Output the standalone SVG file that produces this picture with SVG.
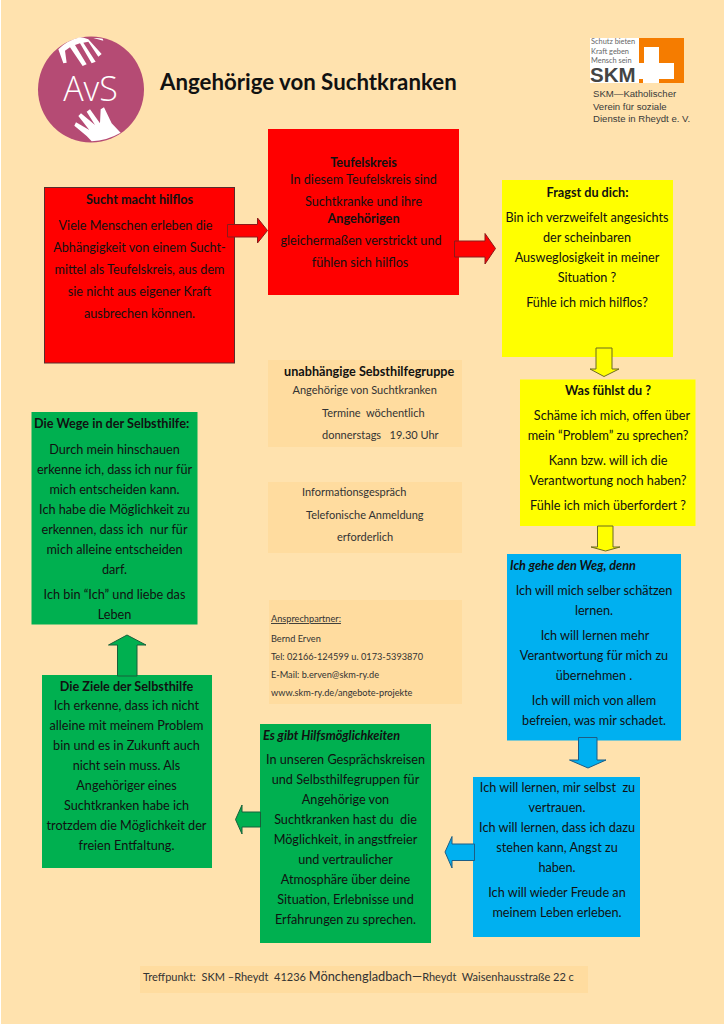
<svg xmlns="http://www.w3.org/2000/svg" width="724" height="1024" viewBox="0 0 724 1024">
<style>
text{font-family:"Lato","Liberation Sans",sans-serif;fill:#111;font-size:12.67px;white-space:pre}
g[id^=node] text{transform:translateY(1px)}
.b{font-weight:700}
.bi{font-weight:700;font-style:italic}
.m{text-anchor:middle}
.s{font-size:11px;fill:#333}
.c{font-size:9.2px;fill:#333}
.red{fill:#f00}.yel{fill:#ff0}.blu{fill:#00b0f0}.grn{fill:#00b050}.inf{fill:#ffdc9f}
.ared{fill:#f00;stroke:#8b1a1a;stroke-width:1}
.ayel{fill:#ff0;stroke:#6b6b20;stroke-width:1}
.ablu{fill:#00b0f0;stroke:#1d5d85;stroke-width:1}
.agrn{fill:#00b050;stroke:#17603a;stroke-width:1}
.sk{font-family:"Liberation Sans",sans-serif;font-size:9.6px;fill:#3a3a3a}
.sl{font-size:7.4px;fill:#666}
</style>
<rect width="724" height="1024" fill="#ffe2ae"/>
<rect width="1" height="1024" fill="#fff"/>
<g id="logo-avs">
<circle cx="91" cy="89.500" r="53" fill="#b54b74"/>
<g transform="translate(30 30) scale(.3333)" fill="#fff">
<path d="M85 58L100 100L110 98L105 62L120 52L158 108L170 103L135 45L150 40L185 100L197 95L160 38L175 35L205 80L215 72L175 28Q160 22 150 22Q110 32 85 58Z"/>
<path d="M190 24L220 32L218 26Q205 23 190 24Z"/>
<path d="M185 334L170 318L133 287L138 277L178 300L145 258L153 250L195 285L170 245L180 238L210 280L212 238L222 232L245 280L272 308Q230 332 185 334Z"/>
</g>
<text x="90.500" y="101" class="m" style="font-family:'Open Sans',sans-serif;font-weight:300;font-size:34px;fill:#fff">AvS</text>
</g>
<g id="title"><text x="160" y="90" class="b" style="font-size:22.250px">Angehörige von Suchtkranken</text></g>
<g id="logo-skm">
<rect x="590" y="38" width="94" height="45" fill="#fff"/>
<path d="M639 38H684V83H659V79H674V63H659V47H644V63H639Z" fill="#f57c00"/>
<rect x="639" y="79" width="4" height="4" fill="#f57c00"/>
<text x="591" y="44" class="sl">Schutz bieten</text><text x="591" y="53.500" class="sl">Kraft geben</text><text x="591" y="63" class="sl">Mensch sein</text>
<text x="590" y="82" style="font-family:'Liberation Sans',sans-serif;font-weight:700;font-size:20.500px;fill:#444">SKM</text>
<text x="593" y="97" class="sk">SKM—Katholischer</text><text x="593" y="109.500" class="sk">Verein für soziale</text><text x="593" y="122" class="sk">Dienste in Rheydt e. V.</text>
</g>
<g id="node-sucht">
<rect class="red" x="44.500" y="187.500" width="190" height="175.500" stroke="#5a2c2c"/>
<text x="139.500" y="203" class="m b">Sucht macht hilflos</text>
<text x="135.500" y="229" class="m">Viele Menschen erleben die</text><text x="139.500" y="251" class="m">Abhängigkeit von einem Sucht-</text><text x="139.500" y="273" class="m">mittel als Teufelskreis, aus dem</text><text x="139.500" y="295" class="m">sie nicht aus eigener Kraft</text><text x="139.500" y="317" class="m">ausbrechen können.</text>
</g>
<g id="node-teufelskreis">
<rect class="red" x="268" y="129" width="191" height="166"/>
<text x="363.500" y="166" class="m b">Teufelskreis</text>
<text x="363.500" y="183" class="m">In diesem Teufelskreis sind</text><text x="363.500" y="205" class="m">Suchtkranke und ihre</text><text x="363.500" y="222" class="m b">Angehörigen</text><text x="361" y="244" class="m">gleichermaßen verstrickt und</text><text x="360" y="266" class="m">fühlen sich hilflos</text>
</g>
<g id="node-fragst">
<rect class="yel" x="502" y="180" width="171" height="177"/>
<text x="587.500" y="196" class="m b">Fragst du dich:</text>
<text x="587" y="220.500" class="m">Bin ich verzweifelt angesichts</text><text x="587" y="240.500" class="m">der scheinbaren</text><text x="587" y="260.500" class="m">Ausweglosigkeit in meiner</text><text x="587" y="280.500" class="m">Situation ?</text><text x="587" y="305.500" class="m">Fühle ich mich hilflos?</text>
</g>
<g id="node-fuehlst">
<rect class="yel" x="520" y="379.500" width="175.500" height="146.500"/>
<text x="608" y="394" class="m b">Was fühlst du ?</text>
<text x="612" y="419" class="m">Schäme ich mich, offen über</text><text x="608" y="439" class="m">mein “Problem” zu sprechen?</text><text x="608" y="464" class="m">Kann bzw. will ich die</text><text x="608" y="484" class="m">Verantwortung noch haben?</text><text x="608" y="509" class="m">Fühle ich mich überfordert ?</text>
</g>
<g id="node-weg">
<rect class="blu" x="507" y="554" width="174" height="186.500"/>
<text x="510" y="569" class="bi">Ich gehe den Weg, denn</text>
<text x="594" y="594" class="m">Ich will mich selber schätzen</text><text x="594" y="614" class="m">lernen.</text><text x="595" y="639" class="m">Ich will lernen mehr</text><text x="594" y="659" class="m">Verantwortung für mich zu</text><text x="594" y="679" class="m">übernehmen .</text><text x="594" y="704" class="m">Ich will mich von allem</text><text x="594" y="724" class="m">befreien, was mir schadet.</text>
</g>
<g id="node-vertrauen">
<rect class="blu" x="473" y="777" width="167" height="160"/>
<text x="557.500" y="791" class="m">Ich will lernen, mir selbst  zu</text><text x="557" y="811" class="m">vertrauen.</text><text x="557" y="831" class="m">Ich will lernen, dass ich dazu</text><text x="557" y="851" class="m">stehen kann, Angst zu</text><text x="557" y="871" class="m">haben.</text><text x="557" y="896" class="m">Ich will wieder Freude an</text><text x="557" y="916" class="m">meinem Leben erleben.</text>
</g>
<g id="node-hilfe">
<rect class="grn" x="260" y="724" width="171" height="219"/>
<text x="263" y="738.500" class="bi">Es gibt Hilfsmöglichkeiten</text>
<text x="345.500" y="763" class="m">In unseren Gesprächskreisen</text><text x="345.500" y="783" class="m">und Selbsthilfegruppen für</text><text x="345.500" y="803" class="m">Angehörige von</text><text x="345.500" y="823" class="m">Suchtkranken hast du  die</text><text x="345.500" y="843" class="m">Möglichkeit, in angstfreier</text><text x="345.500" y="863" class="m">und vertraulicher</text><text x="345.500" y="883" class="m">Atmosphäre über deine</text><text x="345.500" y="903" class="m">Situation, Erlebnisse und</text><text x="345.500" y="923" class="m">Erfahrungen zu sprechen.</text>
</g>
<g id="node-ziele">
<rect class="grn" x="42" y="675" width="170" height="193"/>
<text x="126.500" y="689.500" class="m b">Die Ziele der Selbsthilfe</text>
<text x="126.500" y="709" class="m">Ich erkenne, dass ich nicht</text><text x="126.500" y="729" class="m">alleine mit meinem Problem</text><text x="126.500" y="749" class="m">bin und es in Zukunft auch</text><text x="126.500" y="769" class="m">nicht sein muss. Als</text><text x="126.500" y="789" class="m">Angehöriger eines</text><text x="126.500" y="809" class="m">Suchtkranken habe ich</text><text x="126.500" y="829" class="m">trotzdem die Möglichkeit der</text><text x="126.500" y="849" class="m">freien Entfaltung.</text>
</g>
<g id="node-wege">
<rect class="grn" x="31.500" y="412" width="166" height="212.500"/>
<text x="34" y="427" class="b">Die Wege in der Selbsthilfe:</text>
<text x="114.500" y="452.500" class="m">Durch mein hinschauen</text><text x="114.500" y="472.500" class="m">erkenne ich, dass ich nur für</text><text x="114.500" y="492.500" class="m">mich entscheiden kann.</text><text x="114.500" y="512.500" class="m">Ich habe die Möglichkeit zu</text><text x="114.500" y="532.500" class="m">erkennen, dass ich  nur für</text><text x="114.500" y="552.500" class="m">mich alleine entscheiden</text><text x="114.500" y="572.500" class="m">darf.</text><text x="114.500" y="597.500" class="m">Ich bin “Ich” und liebe das</text><text x="114.500" y="617.500" class="m">Leben</text>
</g>
<g id="info-gruppe">
<rect class="inf" x="268" y="360" width="194" height="87"/>
<text x="284" y="375.500" class="b">unabhängige Sebsthilfegruppe</text>
<text x="292.500" y="394" class="s">Angehörige von Suchtkranken</text><text x="322" y="416.500" class="s">Termine  wöchentlich</text><text x="322" y="439" class="s">donnerstags   19.30 Uhr</text>
</g>
<g id="info-gespraech">
<rect class="inf" x="268" y="482" width="194" height="71"/>
<text x="302" y="496" class="s">Informationsgespräch</text><text x="306" y="519" class="s">Telefonische Anmeldung</text><text x="337" y="541" class="s">erforderlich</text>
</g>
<g id="info-kontakt">
<rect class="inf" x="269" y="600" width="193" height="104"/>
<text x="271" y="622" class="c" text-decoration="underline">Ansprechpartner:</text><text x="271" y="642" class="c">Bernd Erven</text><text x="271" y="660" class="c">Tel: 02166-124599 u. 0173-5393870</text><text x="271" y="678" class="c">E-Mail: b.erven@skm-ry.de</text><text x="271" y="696" class="c">www.skm-ry.de/angebote-projekte</text>
</g>
<g id="info-treffpunkt">
<rect class="inf" x="140" y="966" width="448" height="27"/>
<text x="143" y="981" class="s">Treffpunkt:  SKM –Rheydt  41236 <tspan style="font-size:12.800px">Mönchengladbach—</tspan>Rheydt  Waisenhausstraße 22 c</text>
</g>
<g id="connectors">
<path class="ared" d="M227.500 224.500H257.500V218L267.500 230.500L257.500 243V237H227.500Z"/>
<path class="ared" d="M454.500 241H485V233.500L495.500 248.500L485 264V257H454.500Z"/>
<path class="ayel" d="M596 348H612V369H619L604 376.500L590 369H596Z"/>
<path class="ayel" d="M597.500 526H613V547H620L605.500 551L591 547H597.500Z"/>
<path class="ablu" d="M578.500 737.500H597V760H606L588 768L569.500 760H578.500Z"/>
<path class="ablu" d="M474.500 844H452V836.500L445 852L452 868V860.500H474.500Z"/>
<path class="agrn" d="M260.500 812H242V805L235.500 819.500L242 834V827H260.500Z"/>
<path class="agrn" d="M117.500 676V645H108.500L127 635L146 645H137V676Z"/>
</g>
</svg>
